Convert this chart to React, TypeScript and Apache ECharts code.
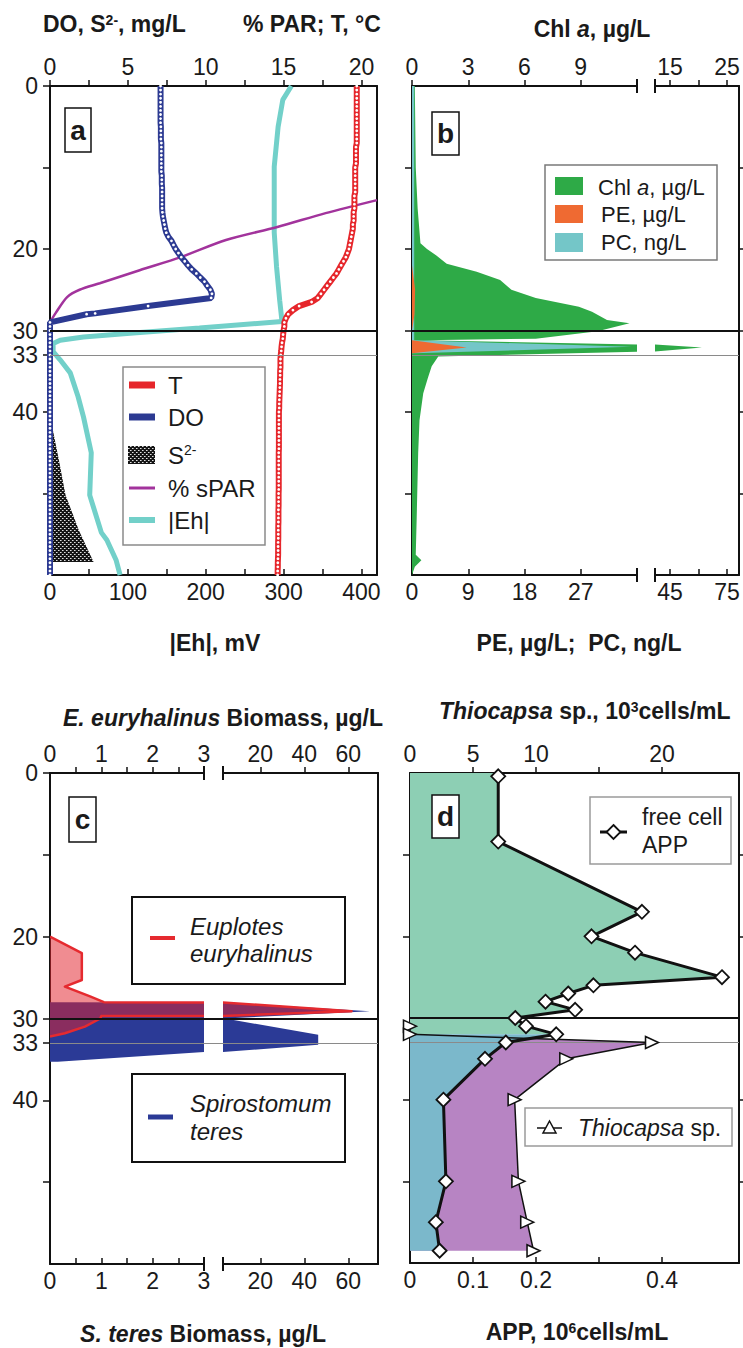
import React, { useEffect, useRef } from "react";
import * as echarts from "echarts";

const FONT = '"Liberation Sans", Arial, Helvetica, sans-serif';
const INK = "#1a1a1a";

// ---------------- Panel a: physico-chemical profiles ----------------
const tDepth = [0,0.5,1,1.5,2,2.5,3,3.5,4,4.5,5,5.5,6,6.5,7,7.5,8,8.5,9,9.5,10,10.5,11,11.5,12,12.5,13,13.5,14,14.5,15,15.5,16,16.5,17,17.5,18,18.5,19,19.5,20,20.5,21,21.5,22,22.5,23,23.5,24,24.5,25,25.5,26,26.5,27,27.5,28,28.5,29,29.5,30,30.5,31,31.5,32,32.5,33,33.5,34,34.5,35,35.5,36,36.5,37,37.5,38,38.5,39,39.5,40,40.5,41,41.5,42,42.5,43,43.5,44,44.5,45,45.5,46,46.5,47,47.5,48,48.5,49,49.5,50,50.5,51,51.5,52,52.5,53,53.5,54,54.5,55,55.5,56,56.5,57,57.5,58,58.5,59,59.5,60];
const tValues = [19.7,19.7,19.7,19.7,19.7,19.7,19.7,19.7,19.7,19.7,19.7,19.7,19.7,19.7,19.7,19.65,19.65,19.65,19.65,19.65,19.6,19.6,19.6,19.6,19.6,19.6,19.6,19.55,19.55,19.55,19.55,19.5,19.5,19.5,19.45,19.45,19.4,19.35,19.3,19.25,19.2,19.1,19.0,18.85,18.7,18.55,18.4,18.2,18.0,17.8,17.6,17.4,17.2,16.8,16.0,15.6,15.3,15.15,15.05,15.05,15.0,14.97,14.95,14.9,14.87,14.85,14.82,14.8,14.8,14.8,14.78,14.78,14.77,14.77,14.76,14.75,14.74,14.73,14.72,14.72,14.7,14.7,14.7,14.7,14.7,14.7,14.7,14.7,14.7,14.7,14.69,14.69,14.69,14.69,14.69,14.69,14.69,14.69,14.69,14.69,14.68,14.68,14.68,14.68,14.67,14.67,14.67,14.67,14.66,14.66,14.66,14.66,14.65,14.65,14.65,14.65,14.64,14.63,14.63,14.62,14.62];
const doDepth = [0,0.5,1,1.5,2,2.5,3,3.5,4,4.5,5,5.5,6,6.5,7,7.5,8,8.5,9,9.5,10,10.5,11,11.5,12,12.5,13,13.5,14,14.5,15,15.5,16,16.5,17,17.5,18,18.5,19,19.5,20,20.5,21,21.5,22,22.5,23,23.5,24,24.5,25,25.5,26,27,27.9,28,29,29.5,30,30.5,31,31.5,32,32.5,33,33.5,34,34.5,35,35.5,36,36.5,37,37.5,38,38.5,39,39.5,40,40.5,41,41.5,42,42.5,43,43.5,44,44.5,45,45.5,46,46.5,47,47.5,48,48.5,49,49.5,50,50.5,51,51.5,52,52.5,53,53.5,54,54.5,55,55.5,56,56.5,57,57.5,58,58.5,59,59.5,60];
const doValues = [7.1,7.1,7.1,7.1,7.1,7.1,7.1,7.1,7.1,7.1,7.12,7.12,7.12,7.12,7.15,7.15,7.15,7.15,7.15,7.15,7.15,7.15,7.18,7.18,7.18,7.2,7.2,7.2,7.2,7.2,7.2,7.22,7.25,7.3,7.35,7.4,7.47,7.6,7.8,7.93,8.07,8.25,8.43,8.65,8.86,9.1,9.4,9.65,9.92,10.1,10.3,10.4,10.35,6.3,2.9,2.35,0,0,0,0,0,0,0,0,0,0,0,0,0,0,0,0,0,0,0,0,0,0,0,0,0,0,0,0,0,0,0,0,0,0,0,0,0,0,0,0,0,0,0,0,0,0,0,0,0,0,0,0,0,0,0,0,0,0,0,0,0,0,0,0,0,0,0,0,0];
const s2Depth = [41.8, 45.9, 50.2, 54.5, 58.4];
const s2Values = [0.14, 0.57, 1.0, 1.85, 2.8];
const parDepth = [14.0, 15.6, 17.3, 18.9, 21.0, 22.6, 24.2, 25.0, 25.9, 27.9, 29.0];
const parValues = [21, 17.7, 14.6, 11.3, 8.4, 5.76, 3.2, 1.9, 1.1, 0.35, 0];
const ehDepth = [0, 1.7, 5, 9.9, 18, 22.2, 26.3, 28.9, 29.7, 30.3, 30.8, 31.2, 31.6, 32.6, 33.6, 35.2, 38.1, 40.6, 45.0, 50.2, 54.8, 55.7, 58.2, 60];
const ehValues = [310, 299, 293, 288, 288, 291, 295, 298, 192, 107, 43, 13, 4, 4, 13, 26, 36, 43, 53, 51, 66, 73, 85, 90];

// ---------------- Panel b: pigments ----------------
const chlDepth = [0, 10, 15, 19.3, 20.0, 20.8, 21.8, 22.8, 23.8, 24.6, 25.0, 26.0, 27.1, 27.7, 28.7, 29.1, 30.1, 31.0, 31.2, 32.1, 33.2, 34.4, 35.8, 37.7, 41, 45, 53, 57.5, 58.2, 59, 60];
const chlValues = [0.15, 0.2, 0.3, 0.45, 0.8, 1.3, 1.85, 3.45, 4.7, 5.1, 5.3, 6.6, 8.9, 9.6, 10.4, 11.6, 9.9, 6.6, 0.6, 20.6, 1.4, 1.05, 0.85, 0.6, 0.4, 0.33, 0.25, 0.2, 0.5, 0.15, 0];
const pcDepth = [0, 31.2, 32.0, 32.8];
const pcValues = [0.35, 0.35, 35.1, 0.3];
const peDepth = [22, 25, 28, 30, 31.2, 32.1, 32.8];
const peValues = [0, 0.5, 0.4, 0, 0, 8.75, 0];

// ---------------- Panel c: ciliate biomass ----------------
const euplotesDepth = [20, 22, 25.3, 26.1, 27.3, 28.0, 29.1, 29.7, 30.0, 31.0, 31.8, 32.2];
const euplotesBiomass = [0, 0.62, 0.62, 0.29, 0.78, 1.05, 61.5, 1.0, 0.98, 0.68, 0.29, 0];
const spiroDepth = [28.0, 29.1, 30.0, 32.0, 33.2, 34.1, 35.3];
const spiroBiomass = [0, 69.8, 4, 46.3, 46.3, 3, 0.15];

// ---------------- Panel d: APP and Thiocapsa ----------------
const appDepth = [0.4, 8.4, 17, 20, 22, 25, 26, 27, 28, 29, 30, 31, 32, 33, 35, 40, 50, 55, 58.5];
const appValues = [0.14, 0.14, 0.368, 0.288, 0.357, 0.495, 0.291, 0.251, 0.215, 0.262, 0.167, 0.184, 0.232, 0.152, 0.119, 0.053, 0.057, 0.041, 0.047];
const thioDepth = [31, 32, 33, 35, 40, 50, 55, 58.5];
const thioValues = [0, 0, 19.2, 12.4, 8.3, 8.6, 9.3, 9.8];
const appSplitDepth = 32;

// ---------------- ticks & labels ----------------
const boundaryDepths = [30, 33];
const depthLabels = [0, 20, 30, 33, 40];
const depthTicks = [0, 10, 20, 30, 33, 40, 50];
const depthTicksB = [10, 20, 30, 40, 50];
const depthTicksD = [10, 20, 40, 50];
const aTopTicks = [0, 2.5, 5, 7.5, 10, 12.5, 15, 17.5, 20];
const aTopLabels = [0, 5, 10, 15, 20];
const aBotTicks = [50, 100, 150, 200, 250, 300, 350, 400];
const aBotLabels = [0, 100, 200, 300, 400];
const bTop1 = [0, 3, 6, 9];
const bTop2Ticks = [15, 20, 25];
const bTop2Labels = [15, 25];
const bBot1Ticks = [9, 18, 27];
const bBot1Labels = [0, 9, 18, 27];
const bBot2Ticks = [45, 60, 75];
const bBot2Labels = [45, 75];
const cSeg1Ticks = [0.5, 1, 1.5, 2, 2.5];
const cSeg1Labels = [0, 1, 2, 3];
const cSeg2Ticks = [20, 40, 60];
const dTopTicks = [5, 10, 15, 20];
const dTopLabels = [0, 5, 10, 20];
const dBotTicks = [0.1, 0.2, 0.3, 0.4];
const dBotLabels = [0, 0.1, 0.2, 0.4];

// colours
const C_T = "#e6262b";
const C_DO = "#2c3a92";
const C_PAR = "#a2339c";
const C_EH = "#72d0c9";
const C_CHL = "#2eaa47";
const C_PE = "#ef6a32";
const C_PC = "#74c6c8";
const C_EUP = "#e52a2f";
const C_SPI = "#2b3a96";
const C_GREEN = "#8dcfb4";
const C_BLUE = "#7bb8cb";
const C_PURPLE = "#b784c3";

const pairs = (vals: number[], deps: number[]) => vals.map((v, i) => [v, deps[i]]);
const closed = (vals: number[], deps: number[]) => [[0, deps[0]], ...pairs(vals, deps), [0, deps[deps.length - 1]]];

function makeHatch() {
  const c = document.createElement("canvas");
  c.width = 4;
  c.height = 4;
  const g = c.getContext("2d")!;
  g.fillStyle = "#151515";
  g.fillRect(0, 0, 4, 4);
  g.fillStyle = "#e0e0e0";
  g.fillRect(0, 0, 1, 1);
  g.fillRect(2, 2, 1, 1);
  g.fillStyle = "#888";
  g.fillRect(1, 0, 1, 1);
  g.fillRect(3, 2, 1, 1);
  return { image: c.toDataURL(), repeat: "repeat", imageWidth: 4, imageHeight: 4 };
}

function polyRender(points: number[][], fill: any, outline?: { pts: number[][]; color: string; width: number }) {
  return (params: any, api: any) => {
    if (params.dataIndex !== 0) return null;
    const cs = params.coordSys;
    const children: any[] = [
      { type: "polygon", shape: { points: points.map((p) => api.coord(p)) }, style: { fill, stroke: "none" } },
    ];
    if (outline) {
      children.push({
        type: "polyline",
        shape: { points: outline.pts.map((p) => api.coord(p)) },
        style: { stroke: outline.color, lineWidth: outline.width, fill: "none", lineJoin: "round" },
      });
    }
    return {
      type: "group",
      children,
      clipPath: { type: "rect", shape: { x: cs.x, y: cs.y, width: cs.width, height: cs.height } },
    };
  };
}

function areaSeries(xi: number, yi: number, points: number[][], fill: any, z: number, outline?: any) {
  return {
    type: "custom",
    xAxisIndex: xi,
    yAxisIndex: yi,
    data: points,
    encode: { x: 0, y: 1 },
    renderItem: polyRender(points, fill, outline),
    clip: true,
    silent: true,
    z,
  };
}

function depthLines(xi: number, yi: number) {
  return {
    type: "line",
    xAxisIndex: xi,
    yAxisIndex: yi,
    data: [],
    silent: true,
    z: 6,
    markLine: {
      silent: true,
      symbol: ["none", "none"],
      label: { show: false },
      data: [
        { yAxis: boundaryDepths[0], lineStyle: { color: "#111", width: 2, type: "solid" } },
        { yAxis: boundaryDepths[1], lineStyle: { color: "#8a8a8a", width: 1, type: "solid" } },
      ],
    },
  };
}

const lineStyleAxis = { color: "#111", width: 2 };

function xAx(grid: number, pos: string, min: number, max: number, ticks: number[], labels: number[], inside: boolean) {
  return {
    type: "value",
    gridIndex: grid,
    position: pos,
    min,
    max,
    axisLine: { show: true, onZero: false, lineStyle: lineStyleAxis },
    axisTick: { show: true, inside, length: 6, customValues: ticks, lineStyle: { color: "#111", width: 1.5 } },
    axisLabel: {
      show: true,
      customValues: labels,
      fontSize: 23,
      color: INK,
      fontFamily: FONT,
      margin: pos === "top" ? 8 : 5,
      hideOverlap: false,
    },
    splitLine: { show: false },
  };
}
const xHidden = (grid: number) => ({ type: "value", gridIndex: grid, show: false, min: 0, max: 1 });

function yAx(grid: number, pos: string, ticks: number[], labels: number[]) {
  return {
    type: "value",
    gridIndex: grid,
    position: pos,
    min: 0,
    max: 60,
    inverse: true,
    axisLine: { show: true, onZero: false, lineStyle: lineStyleAxis },
    axisTick: { show: ticks.length > 0, inside: false, length: 7, customValues: ticks, lineStyle: { color: "#111", width: 1.5 } },
    axisLabel: {
      show: labels.length > 0,
      customValues: labels,
      fontSize: 23,
      color: INK,
      fontFamily: FONT,
      margin: 12,
      hideOverlap: false,
    },
    splitLine: { show: false },
  };
}
const yHidden = (grid: number) => ({ type: "value", gridIndex: grid, show: false, min: 0, max: 60, inverse: true });

// ---------- graphic helpers ----------
const richBase = (size: number, bold: boolean) => ({
  n: { fontSize: size, fontWeight: bold ? "bold" : "normal", fontFamily: FONT, fill: INK },
  i: { fontSize: size, fontWeight: bold ? "bold" : "normal", fontStyle: "italic", fontFamily: FONT, fill: INK },
  sup: { fontSize: Math.round(size * 0.6), fontWeight: bold ? "bold" : "normal", fontFamily: FONT, fill: INK, verticalAlign: "top" },
});
function txt(x: number, y: number, text: string, size: number, bold: boolean, align = "left") {
  return {
    type: "text",
    x,
    y,
    silent: true,
    z: 50,
    style: {
      text,
      rich: richBase(size, bold),
      textAlign: align,
      align,
      textVerticalAlign: "middle",
      verticalAlign: "middle",
      fontFamily: FONT,
      fontSize: size,
      fill: INK,
    },
  };
}
const box = (x: number, y: number, w: number, h: number, stroke: string, lw: number) => ({
  type: "rect",
  z: 40,
  silent: true,
  shape: { x, y, width: w, height: h },
  style: { fill: "#fff", stroke, lineWidth: lw },
});
const seg = (x1: number, y1: number, x2: number, y2: number, stroke: string, lw: number) => ({
  type: "line",
  z: 45,
  silent: true,
  shape: { x1, y1, x2, y2 },
  style: { stroke, lineWidth: lw },
});
const swatch = (x: number, y: number, w: number, h: number, fill: any) => ({
  type: "rect",
  z: 45,
  silent: true,
  shape: { x, y, width: w, height: h },
  style: { fill },
});
const panelLabel = (x: number, y: number, w: number, h: number, letter: string) => [
  box(x, y, w, h, "#111", 1.5),
  txt(x + w / 2, y + h / 2, "{n|" + letter + "}", 28, true, "center"),
];

export default function App() {
  const ref = useRef<HTMLDivElement>(null);

  useEffect(() => {
    if (!ref.current) return;
    const chart = echarts.init(ref.current, null, { renderer: "svg" });
    const hatch1 = makeHatch();
    const hatch2 = makeHatch();

    const appUpper = [[0, 0], [appValues[0], 0], ...pairs(appValues, appDepth).filter((p) => p[1] <= appSplitDepth), [0, appSplitDepth]];
    const appLower = [[0, appSplitDepth], ...pairs(appValues, appDepth).filter((p) => p[1] >= appSplitDepth), [0, appDepth[appDepth.length - 1]]];
    const thioArea = closed(thioValues, thioDepth).filter((p) => p[1] >= appSplitDepth);

    const grids = [
      { left: 50, top: 86, width: 327, height: 489 }, // 0 a
      { left: 412, top: 86, width: 327, height: 489 }, // 1 b frame
      { left: 412, top: 86, width: 225, height: 489 }, // 2 b seg1
      { left: 655, top: 86, width: 84, height: 489 }, // 3 b seg2
      { left: 50, top: 773, width: 328, height: 491 }, // 4 c frame
      { left: 50, top: 773, width: 154, height: 491 }, // 5 c seg1
      { left: 223, top: 773, width: 155, height: 491 }, // 6 c seg2
      { left: 410, top: 773, width: 329, height: 490 }, // 7 d
    ].map((g) => ({ ...g, show: false, containLabel: false, outerBoundsMode: "none" }));

    const xAxis = [
      xAx(0, "top", 0, 21, aTopTicks, aTopLabels, false), // 0
      xAx(0, "bottom", 0, 420, aBotTicks, aBotLabels, true), // 1
      xHidden(1), // 2
      xAx(2, "top", 0, 12, bTop1, bTop1, false), // 3
      xAx(2, "bottom", 0, 36, bBot1Ticks, bBot1Labels, true), // 4
      xAx(3, "top", 12.37, 27.1, bTop2Ticks, bTop2Labels, false), // 5
      xAx(3, "bottom", 37.1, 81.3, bBot2Ticks, bBot2Labels, true), // 6
      xHidden(4), // 7
      xAx(5, "top", 0, 3, cSeg1Ticks, cSeg1Labels, false), // 8
      xAx(5, "bottom", 0, 3, cSeg1Ticks, cSeg1Labels, true), // 9
      xAx(6, "top", 3, 73.5, cSeg2Ticks, cSeg2Ticks, false), // 10
      xAx(6, "bottom", 3, 73.5, cSeg2Ticks, cSeg2Ticks, true), // 11
      xAx(7, "top", 0, 26.1, dTopTicks, dTopLabels, false), // 12
      xAx(7, "bottom", 0, 0.522, dBotTicks, dBotLabels, true), // 13
    ];
    const yAxis = [
      yAx(0, "left", depthTicks, depthLabels), // 0
      yAx(0, "right", [], []), // 1
      yAx(1, "left", depthTicksB, []), // 2
      yAx(1, "right", depthTicksB, []), // 3
      yHidden(2), // 4
      yHidden(3), // 5
      yAx(4, "left", depthTicks, depthLabels), // 6
      yAx(4, "right", [], []), // 7
      yHidden(5), // 8
      yHidden(6), // 9
      yAx(7, "left", depthTicksD, []), // 10
      yAx(7, "right", depthTicksD, []), // 11
    ];

    const dotted = (color: string) => ({
      type: "line",
      showSymbol: true,
      symbol: "circle",
      symbolSize: 2.8,
      itemStyle: { color: "#fff", borderWidth: 0 },
      lineStyle: { color, width: 6 },
      silent: true,
    });

    const euplotesPts = pairs(euplotesBiomass, euplotesDepth);
    const euplotesPoly = closed(euplotesBiomass, euplotesDepth);
    const spiroPoly = closed(spiroBiomass, spiroDepth);
    const eupFill = "rgba(226, 34, 44, 0.52)";

    const series: any[] = [
      // ---- panel a ----
      areaSeries(0, 0, closed(s2Values, s2Depth), hatch1, 2),
      { type: "line", xAxisIndex: 1, yAxisIndex: 0, data: pairs(ehValues, ehDepth), symbol: "none", lineStyle: { color: C_EH, width: 5 }, z: 3, silent: true },
      { type: "line", xAxisIndex: 0, yAxisIndex: 0, data: pairs(parValues, parDepth), symbol: "none", smooth: 0.3, lineStyle: { color: C_PAR, width: 2.5 }, z: 3, silent: true },
      { ...dotted(C_DO), xAxisIndex: 0, yAxisIndex: 0, data: pairs(doValues, doDepth), z: 4 },
      { ...dotted(C_T), xAxisIndex: 0, yAxisIndex: 0, data: pairs(tValues, tDepth), z: 4 },
      depthLines(0, 0),
      // ---- panel b ----
      areaSeries(3, 4, closed(chlValues, chlDepth), C_CHL, 2),
      areaSeries(5, 5, closed(chlValues, chlDepth), C_CHL, 2),
      areaSeries(4, 4, closed(pcValues, pcDepth), C_PC, 3),
      areaSeries(6, 5, closed(pcValues, pcDepth), C_PC, 3),
      areaSeries(4, 4, closed(peValues, peDepth), C_PE, 4),
      areaSeries(6, 5, closed(peValues, peDepth), C_PE, 4),
      depthLines(2, 2),
      // ---- panel c ----
      areaSeries(9, 8, spiroPoly, C_SPI, 2),
      areaSeries(11, 9, spiroPoly, C_SPI, 2),
      areaSeries(8, 8, euplotesPoly, eupFill, 3, { pts: euplotesPts, color: C_EUP, width: 2.5 }),
      areaSeries(10, 9, euplotesPoly, eupFill, 3, { pts: euplotesPts, color: C_EUP, width: 2.5 }),
      depthLines(7, 6),
      // ---- panel d ----
      areaSeries(12, 10, thioArea, C_PURPLE, 2),
      areaSeries(13, 10, appUpper, C_GREEN, 3),
      areaSeries(13, 10, appLower, C_BLUE, 3),
      depthLines(13, 10),
      {
        type: "line",
        xAxisIndex: 12,
        yAxisIndex: 10,
        data: pairs(thioValues, thioDepth),
        symbol: "path://M0,0L10,5L0,10Z",
        symbolSize: [13, 12],
        itemStyle: { color: "#fff", borderColor: "#111", borderWidth: 1.5 },
        lineStyle: { color: "#111", width: 1.5 },
        z: 7,
        silent: true,
      },
      {
        type: "line",
        xAxisIndex: 13,
        yAxisIndex: 10,
        data: pairs(appValues, appDepth),
        symbol: "diamond",
        symbolSize: 14,
        itemStyle: { color: "#fff", borderColor: "#111", borderWidth: 1.8 },
        lineStyle: { color: "#111", width: 3 },
        z: 8,
        silent: true,
      },
    ];

    const graphics: any[] = [
      // titles
      txt(43, 24, "{n|DO, S}{sup|2-}{n|, mg/L}", 23, true),
      txt(243, 24, "{n|% PAR; T, °C}", 23, true),
      txt(592, 29, "{n|Chl }{i|a}{n|, µg/L}", 23, true, "center"),
      txt(215, 643, "{n||Eh|, mV}", 23, true, "center"),
      txt(579, 643, "{n|PE, µg/L;  PC, ng/L}", 23, true, "center"),
      txt(63, 718, "{i|E. euryhalinus}{n| Biomass, µg/L}", 23, true),
      txt(439, 711, "{i|Thiocapsa}{n| sp., 10}{sup|3}{n|cells/mL}", 23, true),
      txt(203, 1334, "{i|S. teres}{n| Biomass, µg/L}", 23, true, "center"),
      txt(577, 1332, "{n|APP, 10}{sup|6}{n|cells/mL}", 23, true, "center"),
      // panel labels
      ...panelLabel(65, 108, 26, 44, "a"),
      ...panelLabel(432, 112, 27, 43, "b"),
      ...panelLabel(69, 797, 27, 45, "c"),
      ...panelLabel(432, 795, 27, 43, "d"),
      // axis break marks
      seg(637, 79, 637, 93, "#111", 2),
      seg(655, 79, 655, 93, "#111", 2),
      seg(637, 568, 637, 582, "#111", 2),
      seg(655, 568, 655, 582, "#111", 2),
      seg(204, 766, 204, 780, "#111", 2),
      seg(223, 766, 223, 780, "#111", 2),
      seg(204, 1257, 204, 1271, "#111", 2),
      seg(223, 1257, 223, 1271, "#111", 2),
      // legend a
      box(123, 367, 142, 178, "#8a8a8a", 1.5),
      seg(129, 385, 155, 385, C_T, 7),
      txt(168, 385, "{n|T}", 24, false),
      seg(129, 417, 155, 417, C_DO, 7),
      txt(168, 417, "{n|DO}", 24, false),
      swatch(128, 446, 27, 18, hatch2),
      txt(168, 455, "{n|S}{sup|2-}", 24, false),
      seg(129, 488, 155, 488, C_PAR, 3),
      txt(168, 488, "{n|% sPAR}", 24, false),
      seg(129, 520, 155, 520, C_EH, 6),
      txt(168, 520, "{n||Eh|}", 24, false),
      // legend b
      box(545, 165, 172, 95, "#7a7a7a", 1.5),
      swatch(555, 177, 28, 18, C_CHL),
      txt(598, 187, "{n|Chl }{i|a}{n|, µg/L}", 22, false),
      swatch(555, 205, 28, 18, C_PE),
      txt(601, 214, "{n|PE, µg/L}", 22, false),
      swatch(555, 233, 28, 19, C_PC),
      txt(601, 242, "{n|PC, ng/L}", 22, false),
      // legend c
      box(132, 897, 213, 87, "#111", 2),
      seg(150, 938, 175, 938, C_EUP, 4),
      txt(190, 926, "{i|Euplotes}", 24, false),
      txt(190, 953, "{i|euryhalinus}", 24, false),
      box(132, 1074, 213, 88, "#111", 2),
      seg(148, 1117, 173, 1117, C_SPI, 5),
      txt(190, 1103, "{i|Spirostomum}", 24, false),
      txt(190, 1131, "{i|teres}", 24, false),
      // legend d
      box(590, 797, 141, 67, "#9a9a9a", 1.5),
      seg(600, 832, 627, 832, "#111", 3),
      {
        type: "polygon",
        z: 46,
        silent: true,
        shape: { points: [[613.5, 825], [620.5, 832], [613.5, 839], [606.5, 832]] },
        style: { fill: "#fff", stroke: "#111", lineWidth: 1.8 },
      },
      txt(642, 817, "{n|free cell}", 23, false),
      txt(642, 845, "{n|APP}", 23, false),
      box(525, 1108, 207, 38, "#9a9a9a", 1.5),
      seg(537, 1128, 562, 1128, "#111", 1.5),
      {
        type: "polygon",
        z: 46,
        silent: true,
        shape: { points: [[549.5, 1121], [556, 1133], [543, 1133]] },
        style: { fill: "#fff", stroke: "#111", lineWidth: 1.5 },
      },
      txt(578, 1128, "{i|Thiocapsa}{n| sp.}", 23, false),
    ];

    chart.setOption({
      animation: false,
      backgroundColor: "#fff",
      textStyle: { fontFamily: FONT },
      grid: grids,
      xAxis,
      yAxis,
      series,
      graphic: { elements: graphics },
    });

    return () => {
      chart.dispose();
    };
  }, []);

  return (
    <div
      ref={ref}
      style={{ position: "absolute", left: 0, top: 0, width: 743, height: 1348, background: "#fff" }}
    />
  );
}
